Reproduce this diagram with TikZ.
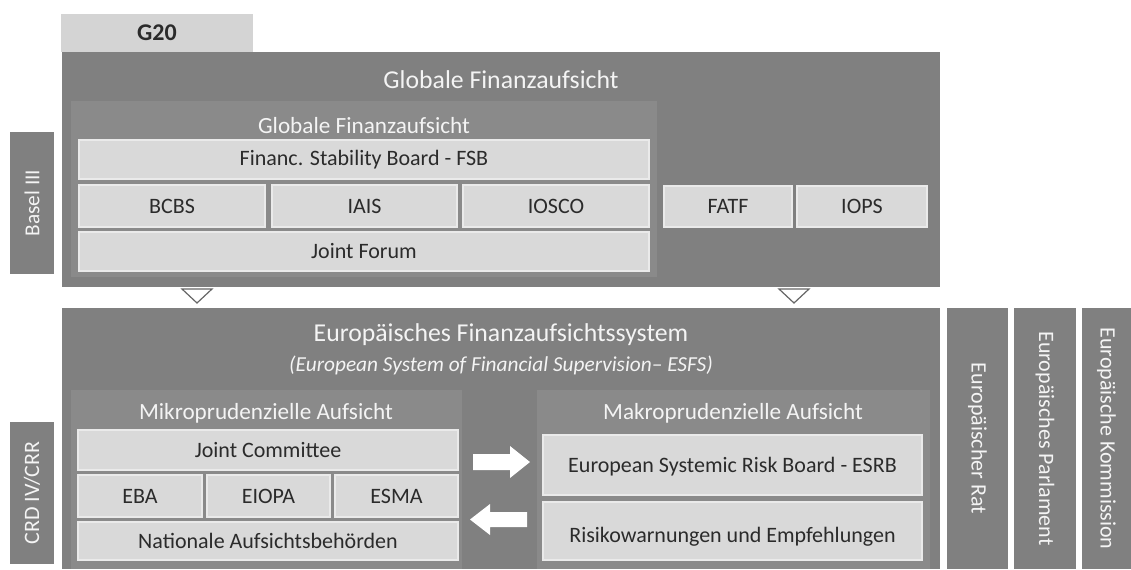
\documentclass[tikz,border=0pt]{standalone}
\usepackage{fontspec}
\setmainfont{Carlito}
\definecolor{dark}{HTML}{808080}
\definecolor{mid}{HTML}{8A8A8A}
\definecolor{light}{HTML}{D9D9D9}
\definecolor{lightedge}{HTML}{EAEAEA}
\definecolor{tab}{HTML}{D4D4D4}
\definecolor{ink}{HTML}{2B2B2B}
\definecolor{paper}{HTML}{F4F4F4}
\begin{document}
\begin{tikzpicture}[x=0.75pt,y=-0.75pt,
  px/.style n args={4}{at={({(#1+#3)/2},{(#2+#4)/2})}, minimum width={(#3-#1)*0.75pt}, minimum height={(#4-#2)*0.75pt}, inner sep=0pt, outer sep=0pt},
  darkbox/.style={fill=dark, draw=none},
  midbox/.style={fill=mid, draw=none},
  lightbox/.style={fill=light, draw=lightedge, line width=0.8pt, text=ink, font=\fontsize{16.5}{19}\selectfont},
  inktext/.style={text=ink, inner sep=0pt, font=\fontsize{16.5}{19}\selectfont},
  wtitle/.style={text=paper, inner sep=0pt, font=\fontsize{19.3}{22}\selectfont},
  wsub/.style={text=paper, inner sep=0pt, font=\fontsize{17.4}{20}\selectfont},
  vlabel/.style={text=paper, inner sep=0pt, font=\fontsize{16.5}{19}\selectfont},
  tri/.style={fill=white, draw=dark!80!black, line width=0.9pt, line join=miter},
  blockarrow/.style={fill=white, draw=none}]
\useasboundingbox (0,0) rectangle (1131,569);
\fill[white] (0,0) rectangle (1131,569);

% G20 tab
\node[px={61}{14}{253}{52}, fill=tab, text=ink, font=\bfseries\fontsize{18}{20}\selectfont] (g20) {G20};

% Basel III
\node[px={10}{132}{54}{274}, darkbox] (basel) {};
\node[vlabel, font=\fontsize{16}{18}\selectfont, rotate=90] (basellbl) at (basel.center) {Basel III};

% Top global box
\node[px={62}{52}{940}{287}, darkbox] (global) {};
\node[wtitle] (globaltitle) at (501,80) {Globale Finanzaufsicht};
\node[px={71}{101}{657}{277}, midbox] (inner) {};
\node[wsub] (innertitle) at (364,126) {Globale Finanzaufsicht};
\node[px={79}{140}{649}{179}, lightbox] (fsb) {Financ. Stability Board - FSB};
\node[px={79}{185}{265}{227}, lightbox] (bcbs) {BCBS};
\node[px={272}{185}{457}{227}, lightbox] (iais) {IAIS};
\node[px={463}{185}{649}{227}, lightbox] (iosco) {IOSCO};
\node[px={79}{232}{649}{271}, lightbox] (jf) {Joint Forum};
\node[px={664}{186}{792}{227}, lightbox] (fatf) {FATF};
\node[px={797}{186}{927}{227}, lightbox] (iops) {IOPS};

% Triangles
\coordinate (t1) at (197,303);
\coordinate (t2) at (794,303);
\draw[tri] ([shift={(-15,-14)}]t1) -- ([shift={(15,-14)}]t1) -- (t1) -- cycle;
\draw[tri] ([shift={(-15,-14)}]t2) -- ([shift={(15,-14)}]t2) -- (t2) -- cycle;

% CRD IV/CRR
\node[px={10}{422}{54}{564}, darkbox] (crd) {};
\node[vlabel, rotate=90] (crdlbl) at (crd.center) {CRD IV/CRR};

% European box
\node[px={62}{308}{940}{569}, darkbox] (esfs) {};
\node[wtitle] (esfstitle) at (501,335) {Europäisches Finanzaufsichtssystem};
\node[wsub, font=\itshape\fontsize{16}{18}\selectfont] (esfssub) at (501,365) {(European System of Financial Supervision– ESFS)};

% Mikro
\node[px={71}{390}{462}{569}, midbox] (mikro) {};
\node[wsub] (mikrotitle) at (266,413) {Mikroprudenzielle Aufsicht};
\node[px={78}{430}{458}{470}, lightbox] (jc) {Joint Committee};
\node[px={78}{475}{202}{517}, lightbox] (eba) {EBA};
\node[px={207}{475}{330}{517}, lightbox] (eiopa) {EIOPA};
\node[px={335}{475}{458}{517}, lightbox] (esma) {ESMA};
\node[px={78}{522}{458}{560}, lightbox] (nat) {Nationale Aufsichtsbehörden};

% Makro
\node[px={537}{390}{930}{569}, midbox] (makro) {};
\node[wsub] (makrotitle) at (733,413) {Makroprudenzielle Aufsicht};
\node[px={543}{435}{922}{495}, lightbox] (esrb) {};
\node[inktext] (esrblbl) at ([yshift=-1.5pt]esrb.center) {European Systemic Risk Board - ESRB};
\node[px={543}{502}{922}{560}, lightbox] (risk) {};
\node[inktext] (risklbl) at ([yshift=-4pt]risk.center) {Risikowarnungen und Empfehlungen};

% block arrows
\fill[blockarrow] (473,454) -- (510,454) -- (510,446) -- (530,462) -- (510,478) -- (510,470) -- (473,470) -- cycle;
\fill[blockarrow] (527,512) -- (490,512) -- (490,504) -- (470,519.5) -- (490,535) -- (490,527) -- (527,527) -- cycle;

% Right columns
\node[px={947}{308}{1008}{569}, darkbox] (rat) {};
\node[vlabel, rotate=-90] (ratlbl) at (rat.center) {Europäischer Rat};
\node[px={1014}{308}{1076}{569}, darkbox] (parl) {};
\node[vlabel, rotate=-90] (parllbl) at (parl.center) {Europäisches Parlament};
\node[px={1082}{308}{1131}{569}, darkbox] (komm) {};
\node[vlabel, rotate=-90] (kommlbl) at (komm.center) {Europäische Kommission};
\end{tikzpicture}
\end{document}
